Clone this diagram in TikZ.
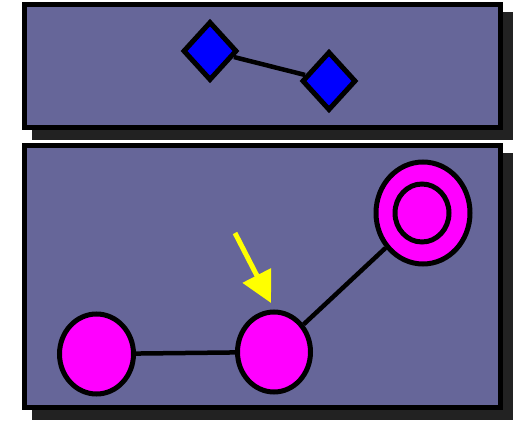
\documentclass[tikz,border=0pt]{standalone}
\usepackage{tikz}
\usetikzlibrary{arrows.meta,shapes.geometric}

\definecolor{panelbg}{RGB}{102,102,153}
\definecolor{shadowgray}{RGB}{34,34,34}
\definecolor{nodemag}{RGB}{255,0,255}
\definecolor{nodeblue}{RGB}{0,0,255}
\definecolor{pointeryellow}{RGB}{255,255,0}

\begin{document}
\begin{tikzpicture}[
  x=1pt, y=-1pt, >=Triangle,
  panel/.style={draw, line width=5pt, fill=panelbg},
  shade/.style={fill=shadowgray},
  gem/.style={diamond, draw, line width=5pt, fill=nodeblue, inner sep=0pt,
              minimum width=54pt, minimum height=59pt},
  blob/.style={ellipse, draw, line width=5pt, fill=nodemag, inner sep=0pt},
  link/.style={line width=4.5pt},
  pointer/.style={->, line width=5pt, draw=pointeryellow,
                  arrows={-Triangle[length=31pt, width=31pt, fill=pointeryellow]}}]
\useasboundingbox (0,0) rectangle (517,422);
% panels with drop shadows
\fill[shade] (32,12) rectangle (513,140);
\draw[panel] (24.5,4.5) rectangle (500.5,127.5);
\fill[shade] (32,153) rectangle (513,420);
\draw[panel] (24.5,145.5) rectangle (500.5,407.5);
% top panel
\node[gem] (ga) at (210,51) {};
\node[gem] (gb) at (329,81) {};
\draw[link] (ga) -- (gb);
% bottom panel
\node[blob, minimum width=74pt, minimum height=80pt] (left) at (96.5,354) {};
\node[blob, minimum width=73pt, minimum height=80pt] (mid) at (274,352) {};
\node[blob, minimum width=94pt, minimum height=102pt] (goal) at (423,213) {};
\node[blob, minimum width=54pt, minimum height=58pt] (goalin) at (422,213) {};
\path[link]
  (left) edge (mid)
  (mid)  edge (goal);
\coordinate (ptrtail) at (235,233);
\coordinate (ptrtip) at (271,303);
\draw[pointer] (ptrtail) -- (ptrtip);
\end{tikzpicture}
\end{document}
